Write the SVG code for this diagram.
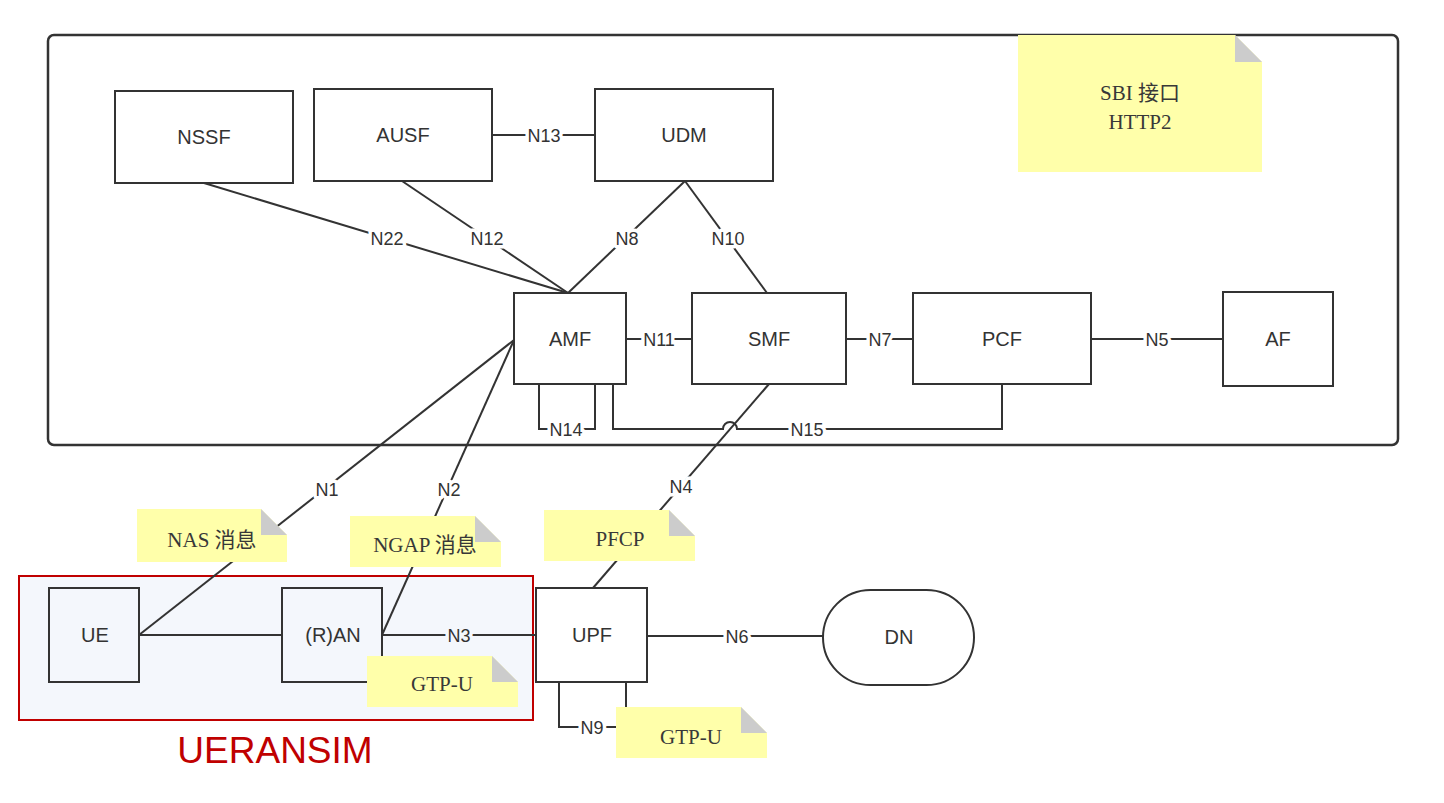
<svg xmlns="http://www.w3.org/2000/svg" width="1444" height="803" viewBox="0 0 1444 803">
<style>
.box{fill:#fff;stroke:#333;stroke-width:2}
.tbox{fill:none;stroke:#333;stroke-width:2}
.ln{fill:none;stroke:#333;stroke-width:2}
.nt{font-family:"Liberation Sans",Arial,sans-serif;font-size:20px;fill:#333;text-anchor:middle}
.lb{font-family:"Liberation Sans",Arial,sans-serif;font-size:18px;fill:#333;text-anchor:middle;paint-order:stroke;stroke:#fff;stroke-width:7px;stroke-linejoin:round}
.lbb{stroke:#F4F7FC}
.note{fill:#FFFFAA}
.fold{fill:#CCCCCC}
.ntx{font-family:"Liberation Serif","Noto Sans CJK SC",serif;font-size:21px;fill:#383838;text-anchor:middle}
</style>
<rect x="0" y="0" width="1444" height="803" fill="#fff"/>
<g id="core-container">
<rect x="48" y="35" width="1350" height="410" rx="6" fill="#fff" stroke="#333" stroke-width="2.5"/>
</g>
<g id="ueransim-group">
<rect x="19" y="576" width="514" height="144" fill="#F4F7FC" stroke="#C00000" stroke-width="2"/>
<text x="275" y="763" font-family="'Liberation Sans',Arial,sans-serif" font-size="37" fill="#C00000" text-anchor="middle">UERANSIM</text>
</g>
<g id="connectors">
<path class="ln" d="M204,183 L568,293"/>
<path class="ln" d="M402,181 L568,293"/>
<path class="ln" d="M685,181 L568,293"/>
<path class="ln" d="M685,181 L767,293"/>
<path class="ln" d="M492,135 H595"/>
<path class="ln" d="M626,339 H692"/>
<path class="ln" d="M846,339 H913"/>
<path class="ln" d="M1091,339 H1223"/>
<path class="ln" d="M539,384 V429 H595 V384"/>
<path class="ln" d="M613,384 V429 H723 A7,7 0 0 1 737,429 H1002 V384"/>
<path class="ln" d="M139,635 L514,340"/>
<path class="ln" d="M382,635 L514,340"/>
<path class="ln" d="M139,635 H282"/>
<path class="ln" d="M382,635 H536"/>
<path class="ln" d="M769,384 L593,588"/>
<path class="ln" d="M647,636 H823"/>
<path class="ln" d="M559,682 V727 H626 V682"/>
<text class="lb" x="387" y="245">N22</text>
<text class="lb" x="487" y="245">N12</text>
<text class="lb" x="627" y="245">N8</text>
<text class="lb" x="728" y="245">N10</text>
<text class="lb" x="544" y="142">N13</text>
<text class="lb" x="659" y="346">N11</text>
<text class="lb" x="880" y="346">N7</text>
<text class="lb" x="1157" y="346">N5</text>
<text class="lb" x="566" y="436">N14</text>
<text class="lb" x="807" y="436">N15</text>
<text class="lb" x="327" y="496">N1</text>
<text class="lb" x="449" y="496">N2</text>
<text class="lb" x="681" y="493">N4</text>
<text class="lb lbb" x="459" y="642">N3</text>
<text class="lb" x="737" y="643">N6</text>
<text class="lb" x="592" y="734">N9</text>
</g>
<g id="node-nssf"><rect class="box" x="115" y="91" width="178" height="92"/><text class="nt" x="204" y="144">NSSF</text></g>
<g id="node-ausf"><rect class="box" x="314" y="89" width="178" height="92"/><text class="nt" x="403" y="142">AUSF</text></g>
<g id="node-udm"><rect class="box" x="595" y="89" width="178" height="92"/><text class="nt" x="684" y="142">UDM</text></g>
<g id="node-amf"><rect class="box" x="514" y="293" width="112" height="91"/><text class="nt" x="570" y="346">AMF</text></g>
<g id="node-smf"><rect class="box" x="692" y="293" width="154" height="91"/><text class="nt" x="769" y="346">SMF</text></g>
<g id="node-pcf"><rect class="box" x="913" y="293" width="178" height="91"/><text class="nt" x="1002" y="346">PCF</text></g>
<g id="node-af"><rect class="box" x="1223" y="292" width="110" height="94"/><text class="nt" x="1278" y="346">AF</text></g>
<g id="node-ue"><rect class="tbox" x="49" y="588" width="90" height="94"/><text class="nt" x="95" y="642">UE</text></g>
<g id="node-ran"><rect class="tbox" x="282" y="588" width="100" height="94"/><text class="nt" x="333" y="642">(R)AN</text></g>
<g id="node-upf"><rect class="box" x="536" y="588" width="111" height="94"/><text class="nt" x="592" y="642">UPF</text></g>
<g id="node-dn"><rect class="box" x="823" y="590" width="151" height="95" rx="47.5"/><text class="nt" x="899" y="644">DN</text></g>
<g id="note-sbi">
<polygon class="note" points="1018,35 1235,35 1262,62 1262,172 1018,172"/>
<polygon class="fold" points="1235,35 1262,62 1235,62"/>
<text class="ntx" x="1140" y="100">SBI 接口</text>
<text class="ntx" x="1140" y="129">HTTP2</text>
</g>
<g id="note-nas">
<polygon class="note" points="137,509 261,509 287,535 287,562 137,562"/>
<polygon class="fold" points="261,509 287,535 261,535"/>
<text class="ntx" x="212" y="547">NAS 消息</text>
</g>
<g id="note-ngap">
<polygon class="note" points="350,516 475,516 501,542 501,567 350,567"/>
<polygon class="fold" points="475,516 501,542 475,542"/>
<text class="ntx" x="425" y="552">NGAP 消息</text>
</g>
<g id="note-gtpu-ran">
<polygon class="note" points="367,656 492,656 518,682 518,707 367,707"/>
<polygon class="fold" points="492,656 518,682 492,682"/>
<text class="ntx" x="442" y="691">GTP-U</text>
</g>
<g id="note-pfcp">
<polygon class="note" points="544,510 669,510 695,536 695,561 544,561"/>
<polygon class="fold" points="669,510 695,536 669,536"/>
<text class="ntx" x="620" y="546">PFCP</text>
</g>
<g id="note-gtpu-n9">
<polygon class="note" points="616,707 741,707 767,733 767,758 616,758"/>
<polygon class="fold" points="741,707 767,733 741,733"/>
<text class="ntx" x="691" y="744">GTP-U</text>
</g>
</svg>
